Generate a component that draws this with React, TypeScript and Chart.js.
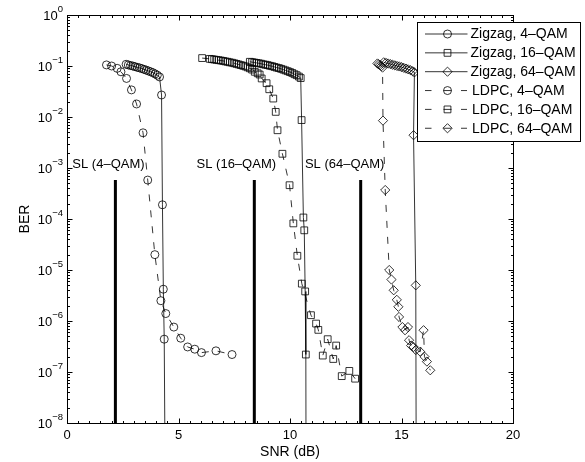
import React, { useEffect, useRef } from 'react';
import { Chart, registerables } from 'chart.js';

Chart.register(...registerables);

const FONT = '"Liberation Sans", Arial, Helvetica, sans-serif';

// ---- data (SNR in dB, BER) ----
const zz4SNR = [2.65, 2.75, 2.85, 2.95, 3.05, 3.15, 3.25, 3.35, 3.45, 3.55, 3.65, 3.75, 3.85, 3.95, 4.05, 4.15, 4.24, 4.28, 4.32, 4.36, 4.4];
const zz4BER = [0.108, 0.105, 0.102, 0.1, 0.097, 0.094, 0.092, 0.089, 0.086, 0.083, 0.08, 0.077, 0.074, 0.07, 0.066, 0.061, 0.027, 1.9e-4, 4.2e-6, 4.4e-7, 1e-9];

const zz16SNR = [8.2, 8.3, 8.4, 8.5, 8.6, 8.7, 8.8, 8.9, 9.0, 9.1, 9.2, 9.3, 9.4, 9.5, 9.6, 9.7, 9.8, 9.9, 10.0, 10.1, 10.2, 10.3, 10.4, 10.48, 10.52, 10.6, 10.64, 10.68, 10.71, 10.72];
const zz16BER = [0.121, 0.119, 0.117, 0.115, 0.113, 0.111, 0.108, 0.106, 0.104, 0.101, 0.099, 0.096, 0.093, 0.091, 0.088, 0.085, 0.082, 0.079, 0.076, 0.073, 0.069, 0.066, 0.062, 0.058, 8.7e-3, 1.07e-4, 6.0e-5, 3.8e-6, 2.2e-7, 1e-9];

const zz64SNR = [14.2, 14.3, 14.4, 14.5, 14.6, 14.7, 14.8, 14.9, 15.0, 15.1, 15.2, 15.3, 15.4, 15.5, 15.58, 15.54, 15.64, 15.66];
const zz64BER = [0.118, 0.115, 0.112, 0.109, 0.106, 0.103, 0.1, 0.098, 0.095, 0.092, 0.089, 0.086, 0.083, 0.079, 0.075, 4.4e-3, 5.0e-6, 1e-9];

const ld4SNR = [1.77, 2.0, 2.25, 2.42, 2.67, 2.89, 3.12, 3.41, 3.62, 3.94, 4.21, 4.43, 4.79, 5.1, 5.41, 5.73, 6.03, 6.68, 7.4];
const ld4BER = [0.105, 0.1, 0.09, 0.077, 0.057, 0.034, 0.018, 4.9e-3, 5.8e-4, 2.0e-5, 2.5e-6, 1.4e-6, 7.6e-7, 4.6e-7, 3.1e-7, 2.8e-7, 2.4e-7, 2.6e-7, 2.2e-7];

const ld16SNR = [6.06, 6.4, 6.5, 6.6, 6.7, 6.8, 6.9, 7.0, 7.1, 7.2, 7.3, 7.4, 7.5, 7.6, 7.7, 7.8, 7.9, 8.0, 8.1, 8.2, 8.3, 8.42, 8.55, 8.64, 8.73, 8.95, 9.07, 9.25, 9.36, 9.44, 9.66, 9.98, 10.15, 10.33, 10.53, 10.94, 11.17, 11.27, 11.47, 11.69, 11.94, 12.07, 12.32, 12.66, 12.92];
const ld16BER = [0.143, 0.138, 0.136, 0.134, 0.132, 0.13, 0.128, 0.126, 0.123, 0.121, 0.118, 0.116, 0.113, 0.11, 0.107, 0.104, 0.101, 0.098, 0.094, 0.09, 0.085, 0.077, 0.072, 0.068, 0.057, 0.046, 0.035, 0.023, 0.0126, 5.5e-3, 1.9e-3, 4.6e-4, 8.2e-5, 1.9e-5, 5.4e-6, 1.3e-6, 8.9e-7, 6.7e-7, 2.1e-7, 4.4e-7, 1.8e-7, 3.3e-7, 8.3e-8, 1.05e-7, 7.4e-8];

const ld64SNR = [13.92, 13.98, 14.04, 14.1, 14.15, 14.17, 14.27, 14.45, 14.55, 14.65, 14.79, 14.86, 14.89, 15.04, 15.16, 15.29, 15.34, 15.43, 15.54, 15.64, 15.84, 15.99, 16.03, 16.14, 16.29];
const ld64BER = [0.112, 0.108, 0.104, 0.099, 0.093, 8.5e-3, 3.7e-4, 1.0e-5, 6.5e-6, 4.0e-6, 2.6e-6, 1.9e-6, 1.2e-6, 7.6e-7, 6.6e-7, 7.6e-7, 4.2e-7, 3.3e-7, 3.1e-7, 2.7e-7, 2.5e-7, 6.6e-7, 2.0e-7, 1.6e-7, 1.08e-7];

// Shannon limits
const slSNR = [2.17, 8.4, 13.17];
const slTopBER = 5.8e-4;
const slBottomBER = 1e-9;
const slLabels = ['SL (4\u2013QAM)', 'SL (16\u2013QAM)', 'SL (64\u2013QAM)'];
const slLabelSNR = [0.24, 5.81, 10.67];
const slLabelBER = 1e-3;

const seriesLabels = ['Zigzag, 4\u2013QAM', 'Zigzag, 16\u2013QAM', 'Zigzag, 64\u2013QAM', 'LDPC, 4\u2013QAM', 'LDPC, 16\u2013QAM', 'LDPC, 64\u2013QAM'];
const seriesStyles = ['circle', 'rect', 'rectRot', 'circle', 'rect', 'rectRot'];
const seriesDashed = [false, false, false, true, true, true];

const xTickValues = [0, 5, 10, 15, 20];
const yTickExponents = [0, -1, -2, -3, -4, -5, -6, -7, -8];
const xTitle = 'SNR (dB)';
const yTitle = 'BER';

const X_MIN = 0, X_MAX = 20, Y_MIN = 1e-8, Y_MAX = 1;

const seriesSNR = [zz4SNR, zz16SNR, zz64SNR, ld4SNR, ld16SNR, ld64SNR];
const seriesBER = [zz4BER, zz16BER, zz64BER, ld4BER, ld16BER, ld64BER];

const markerRadius: Record<string, number> = { circle: 4, rect: 4.8, rectRot: 4.6 };

function drawMarker(ctx: CanvasRenderingContext2D, style: string, x: number, y: number) {
  ctx.beginPath();
  if (style === 'circle') {
    ctx.arc(x, y, 4, 0, Math.PI * 2);
  } else if (style === 'rect') {
    ctx.rect(x - 3.4, y - 3.4, 6.8, 6.8);
  } else {
    ctx.moveTo(x - 4.6, y);
    ctx.lineTo(x, y - 4.6);
    ctx.lineTo(x + 4.6, y);
    ctx.lineTo(x, y + 4.6);
    ctx.closePath();
  }
  ctx.stroke();
}

const overlay = {
  id: 'matlabOverlay',
  afterDraw(chart: any) {
    const { ctx, chartArea: a, scales } = chart;
    const xs = scales.x;
    const ys = scales.y;
    ctx.save();
    ctx.strokeStyle = '#000';
    ctx.fillStyle = '#000';
    ctx.lineWidth = 1;
    const L = Math.round(a.left) + 0.5;
    const R = Math.round(a.right) + 0.5;
    const T = Math.round(a.top) + 0.5;
    const B = Math.round(a.bottom) + 0.5;
    ctx.strokeRect(L, T, R - L, B - T);

    ctx.beginPath();
    for (let i = 0; i <= (X_MAX - X_MIN) * 2; i++) {
      const v = X_MIN + i * 0.5;
      const px = Math.round(xs.getPixelForValue(v)) + 0.5;
      const len = xTickValues.includes(v) ? 5 : 2.5;
      ctx.moveTo(px, B); ctx.lineTo(px, B - len);
      ctx.moveTo(px, T); ctx.lineTo(px, T + len);
    }
    for (const e of yTickExponents) {
      const py = Math.round(ys.getPixelForValue(Math.pow(10, e))) + 0.5;
      ctx.moveTo(L, py); ctx.lineTo(L + 5, py);
      ctx.moveTo(R, py); ctx.lineTo(R - 5, py);
      if (e > -8) {
        for (let m = 2; m <= 9; m++) {
          const pm = Math.round(ys.getPixelForValue(m * Math.pow(10, e - 1))) + 0.5;
          ctx.moveTo(L, pm); ctx.lineTo(L + 2.5, pm);
          ctx.moveTo(R, pm); ctx.lineTo(R - 2.5, pm);
        }
      }
    }
    ctx.stroke();

    // x tick labels
    ctx.font = `13px ${FONT}`;
    ctx.textAlign = 'center';
    ctx.textBaseline = 'middle';
    for (const v of xTickValues) {
      ctx.fillText(String(v), xs.getPixelForValue(v), a.bottom + 12);
    }
    // y tick labels 10^e
    for (const e of yTickExponents) {
      const py = ys.getPixelForValue(Math.pow(10, e));
      const expStr = e === 0 ? '0' : '\u2212' + String(-e);
      ctx.font = `9.5px ${FONT}`;
      ctx.textAlign = 'right';
      ctx.textBaseline = 'middle';
      const ew = ctx.measureText(expStr).width;
      const right = a.left - 4;
      ctx.fillText(expStr, right, py - 6);
      ctx.font = `13px ${FONT}`;
      ctx.fillText('10', right - ew, py + 1);
    }
    // axis titles
    ctx.font = `14px ${FONT}`;
    ctx.textAlign = 'center';
    ctx.textBaseline = 'middle';
    ctx.fillText(xTitle, (a.left + a.right) / 2, a.bottom + 29);
    ctx.save();
    ctx.translate(25.5, (a.top + a.bottom) / 2);
    ctx.rotate(-Math.PI / 2);
    ctx.fillText(yTitle, 0, 0);
    ctx.restore();

    // SL labels
    ctx.font = `13px ${FONT}`;
    ctx.textAlign = 'left';
    ctx.textBaseline = 'alphabetic';
    slLabels.forEach((t, i) => {
      ctx.fillText(t, xs.getPixelForValue(slLabelSNR[i]), ys.getPixelForValue(slLabelBER));
    });

    // legend
    const lx = 417.5, ly = 22.5, lw = 163, lh = 119;
    ctx.fillStyle = '#fff';
    ctx.fillRect(lx, ly, lw, lh);
    ctx.strokeStyle = '#000';
    ctx.lineWidth = 1;
    ctx.strokeRect(lx, ly, lw, lh);
    ctx.fillStyle = '#000';
    ctx.font = `14px ${FONT}`;
    ctx.textAlign = 'left';
    ctx.textBaseline = 'middle';
    seriesLabels.forEach((t, i) => {
      const y = 34 + i * 18.85;
      ctx.lineWidth = 0.8;
      ctx.beginPath();
      if (seriesDashed[i]) {
        ctx.moveTo(425, y); ctx.lineTo(431.5, y);
        ctx.moveTo(443.5, y); ctx.lineTo(451.5, y);
        ctx.moveTo(461, y); ctx.lineTo(467, y);
      } else {
        ctx.moveTo(425, y); ctx.lineTo(467.5, y);
      }
      ctx.stroke();
      drawMarker(ctx, seriesStyles[i], 447.5, y);
      ctx.fillText(t, seriesDashed[i] ? 472 : 470.5, y + 0.5);
    });
    ctx.restore();
  },
};

export default function App() {
  const ref = useRef<HTMLCanvasElement | null>(null);
  useEffect(() => {
    if (!ref.current) return;
    const datasets: any[] = seriesLabels.map((label, i) => ({
      label,
      data: seriesSNR[i].map((x, j) => ({ x, y: seriesBER[i][j] })),
      borderColor: '#000',
      borderWidth: 0.8,
      borderDash: seriesDashed[i] ? [7, 9] : [],
      pointStyle: seriesStyles[i],
      pointRadius: (c: any) => (c.raw && c.raw.y < Y_MIN ? 0 : markerRadius[seriesStyles[i]]),
      pointHoverRadius: 0,
      pointBorderColor: '#000',
      pointBackgroundColor: 'rgba(0,0,0,0)',
      pointBorderWidth: 0.8,
      tension: 0,
      fill: false,
    }));
    slSNR.forEach((x) => {
      datasets.push({
        label: 'SL',
        data: [{ x, y: slTopBER }, { x, y: slBottomBER }],
        borderColor: '#000',
        borderWidth: 3,
        pointRadius: 0,
        fill: false,
      });
    });
    const chart = new Chart(ref.current, {
      type: 'line',
      data: { datasets },
      options: {
        animation: false,
        responsive: false,
        devicePixelRatio: 1,
        events: [],
        layout: { padding: { left: 67, right: 72, top: 15, bottom: 39 } },
        plugins: { legend: { display: false }, tooltip: { enabled: false } },
        scales: {
          x: { type: 'linear', min: X_MIN, max: X_MAX, display: false },
          y: { type: 'logarithmic', min: Y_MIN, max: Y_MAX, display: false },
        },
      },
      plugins: [overlay],
    });
    return () => chart.destroy();
  }, []);
  return (
    <div style={{ position: 'absolute', left: 0, top: 0, width: 585, height: 462, background: '#fff' }}>
      <canvas ref={ref} width={585} height={462} />
    </div>
  );
}
